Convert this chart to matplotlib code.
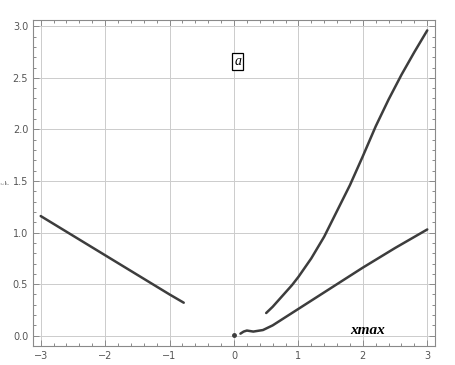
import numpy as np
import matplotlib.pyplot as plt
from matplotlib.ticker import MultipleLocator, FormatStrFormatter

# branches
x_left = [-3.0, -2.5, -2.0, -1.5, -1.0, -0.78]
y_left = [1.16, 0.97, 0.78, 0.59, 0.40, 0.32]

x_dot = [0.0]
y_dot = [0.01]

x_low = [0.1, 0.15, 0.2, 0.3, 0.4, 0.45, 0.5, 0.6, 0.7, 0.8, 0.9, 1.0,
         1.2, 1.5, 2.0, 2.5, 3.0]
y_low = [0.02, 0.04, 0.05, 0.04, 0.05, 0.055, 0.07, 0.10, 0.14, 0.18, 0.22, 0.26,
         0.34, 0.46, 0.66, 0.85, 1.03]

x_up = [0.5, 0.6, 0.7, 0.8, 0.9, 1.0, 1.2, 1.4, 1.6, 1.8, 2.0, 2.2, 2.4, 2.6, 2.8, 3.0]
y_up = [0.22, 0.28, 0.35, 0.42, 0.49, 0.57, 0.75, 0.96, 1.21, 1.46, 1.74, 2.03,
        2.29, 2.53, 2.75, 2.96]

line_col = '#3d3d3d'
gray = '#8a8a8a'

fig = plt.figure(figsize=(4.55, 3.65), dpi=100)
ax = fig.add_axes([0.0725, 0.052, 0.8835, 0.893])

ax.plot(x_left, y_left, color=line_col, lw=1.8, solid_capstyle='round')
ax.plot(x_low, y_low, color=line_col, lw=1.8, solid_capstyle='round')
ax.plot(x_up, y_up, color=line_col, lw=1.8, solid_capstyle='round')
ax.plot(x_dot, y_dot, 'o', color=line_col, ms=2.5)

ax.set_xlim(-3.12, 3.12)
ax.set_ylim(-0.1, 3.06)

ax.xaxis.set_major_locator(MultipleLocator(1))
ax.xaxis.set_minor_locator(MultipleLocator(0.2))
ax.yaxis.set_major_locator(MultipleLocator(0.5))
ax.yaxis.set_minor_locator(MultipleLocator(0.1))
ax.yaxis.set_major_formatter(FormatStrFormatter('%.1f'))

ax.grid(True, which='major', color='#cccccc', lw=0.7)
ax.set_axisbelow(True)
ax.tick_params(which='both', direction='in', top=True, right=True, colors=gray,
               labelcolor='#555555', labelsize=7, width=0.7)
ax.tick_params(which='major', length=4)
ax.tick_params(which='minor', length=2.5)
for s in ax.spines.values():
    s.set_color(gray)
    s.set_linewidth(0.8)

ax.set_ylabel(r'$\frac{t}{F}$', fontsize=5, color='#888888')
ax.yaxis.set_label_coords(-0.05, 0.5)

ax.text(0.06, 2.66, 'a', family='Liberation Serif', style='italic', fontsize=10,
        ha='center', va='center',
        bbox=dict(boxstyle='square,pad=0.15', fc='white', ec='black', lw=0.9))
ax.text(2.08, 0.05, 'xmax', family='Liberation Serif', style='italic',
        weight='bold', fontsize=11, ha='center', va='center')

fig.savefig('out.png', dpi=100)
